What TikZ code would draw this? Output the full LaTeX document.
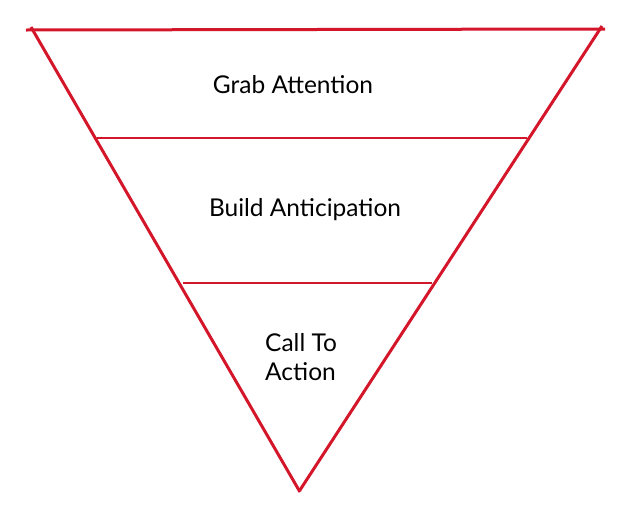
\documentclass[tikz,border=0pt]{standalone}
\usepackage{fontspec}
\setmainfont{Lato}
\definecolor{funnelred}{RGB}{212,22,42}
\tikzset{
  edge/.style={draw=funnelred, line width=3pt, line cap=butt},
  label/.style={font=\fontsize{24.5}{29}\selectfont, text=black, inner sep=0pt, align=left}
}
\begin{document}
\begin{tikzpicture}[x=1pt,y=-1pt]
\useasboundingbox (0,0) rectangle (634,509);
\coordinate (tl) at (26,30);
\coordinate (tr) at (605,29);
\coordinate (ls) at (31,27);
\coordinate (rs) at (602,26);
\coordinate (bl) at (300,492);
\coordinate (br) at (300,490);
\coordinate (a1) at (97,138);
\coordinate (a2) at (527,138);
\coordinate (b1) at (183,283);
\coordinate (b2) at (432,283);
\draw[edge] (tl) -- (tr);
\draw[edge] (ls) -- (bl);
\draw[edge] (rs) -- (br);
\draw[edge, line width=2.6pt] (a1) -- (a2);
\draw[edge, line width=2.6pt] (b1) -- (b2);
\node[label] (grab) at (293,85) {Grab Attention};
\node[label] (build) at (305,210) {Build Anticipation};
\node[label, anchor=west] (cta) at (265,357) {Call To\\Action};
\end{tikzpicture}
\end{document}
